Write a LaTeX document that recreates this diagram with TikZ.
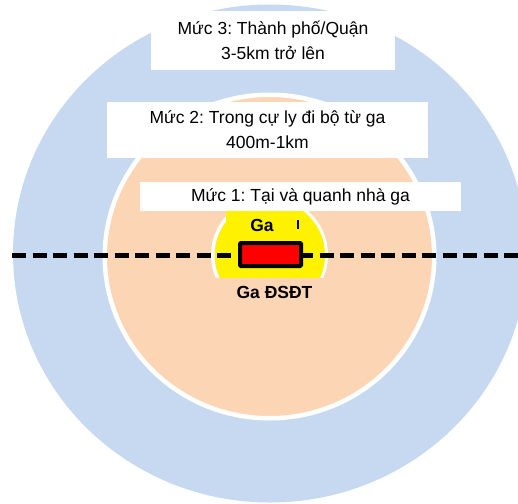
\documentclass[tikz,border=0pt]{standalone}
\usepackage{fontspec}
\setmainfont{Liberation Sans}
\frenchspacing
\definecolor{ringblue}{HTML}{C6D9F1}
\definecolor{peach}{HTML}{FCD5B5}
\begin{document}
\begin{tikzpicture}[x=1pt,y=-1pt,
  labelbox/.style={fill=white, inner sep=0pt, align=center,
    font=\fontsize{17.5}{25}\selectfont},
  stationlabel/.style={inner sep=0pt, font=\fontsize{17.5}{21}\selectfont\bfseries},
  rail/.style={line width=5pt, dash pattern=on 14pt off 6.5pt},
  stationbox/.style={draw=black, fill=red, line width=4pt, rounded corners=1pt,
    minimum width=61pt, minimum height=23pt, inner sep=0pt}]
\useasboundingbox (0,0) rectangle (518,503);
\clip (0,0) rectangle (518,503);
% level 3 area
\fill[ringblue] (270,253.5) ellipse [x radius=257pt, y radius=249pt];
% level 2 area
\draw[white, line width=4.5pt, fill=peach] (269.5,256.5) ellipse [x radius=164.75pt, y radius=161.75pt];
% labels 3 and 2
\node[labelbox, minimum width=244pt, minimum height=59pt] (m3) at (273,40.5)
  {Mức 3: Thành phố/Quận\\3-5km trở lên};
\node[labelbox, minimum width=321pt, minimum height=56pt] (m2) at (267.5,130)
  {Mức 2: Trong cự ly đi bộ từ ga\\400m-1km};
% level 1 area
\begin{scope}
  \clip (0,0) rectangle (518,277);
  \draw[white, line width=3.5pt] (269.5,255) circle [radius=56.75pt];
  \fill[yellow] (270,255) circle [radius=55pt];
  \fill[yellow] (226,210) rectangle (300,240);
\end{scope}
\draw[line width=1.5pt] (298,220) -- (298,229);
% rail line
\coordinate (railW) at (12,255);
\coordinate (railE) at (520,255);
\draw[rail] (railW) -- (railE);
% station
\node[stationbox] (station) at (270.5,254.5) {};
\node[labelbox, minimum width=321pt, minimum height=29pt] (m1) at (300.5,196.5)
  {Mức 1: Tại và quanh nhà ga};
\node[stationlabel] (ga) at (262,225.5) {Ga};
\node[stationlabel] (gadsdt) at (274.5,292) {Ga ĐSĐT};
\end{tikzpicture}
\end{document}
